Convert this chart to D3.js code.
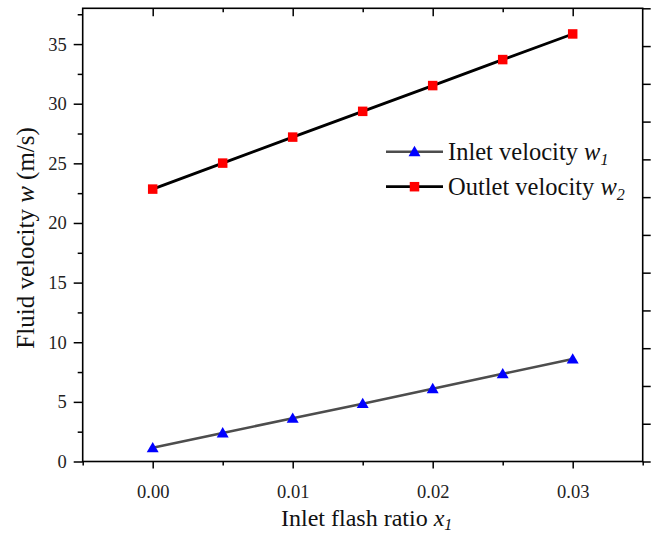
<!DOCTYPE html>
<html>
<head>
<meta charset="utf-8">
<script src="https://cdn.jsdelivr.net/npm/d3@7"></script>
<style>
  html, body { margin: 0; padding: 0; background: #fff; }
  svg { display: block; font-family: "Liberation Serif", "Times New Roman", serif; }
  svg text { font-family: "Liberation Serif", "Times New Roman", serif !important; }
</style>
</head>
<body>
<svg id="chart" width="659" height="536"></svg>
<script>
// Inlet flash ratio (x1) and the two velocity series (m/s)
const flashRatio = [0.000, 0.005, 0.010, 0.015, 0.020, 0.025, 0.030];
const inletVelocity = [1.15, 2.39, 3.62, 4.85, 6.10, 7.35, 8.59];
const outletVelocity = [22.84, 25.02, 27.2, 29.36, 31.52, 33.7, 35.85];

const xTickValues = [0.00, 0.01, 0.02, 0.03];
const xTickLabels = ["0.00", "0.01", "0.02", "0.03"];
const xMinorValues = [-0.005, 0.005, 0.015, 0.025, 0.035];
const yTickValues = [0, 5, 10, 15, 20, 25, 30, 35];
const yMinorValues = [2.5, 7.5, 12.5, 17.5, 22.5, 27.5, 32.5, 37.5];

const seriesNames = ["Inlet velocity", "Outlet velocity"];
const seriesSubs = ["1", "2"];

const FONT = "Liberation Serif, Times New Roman, serif";

const svg = d3.select("#chart");
const margin = { left: 82.7, right: 16.3, top: 8.3, bottom: 74.5 };
const W = 659, H = 536;
const x = d3.scaleLinear().domain([-0.005, 0.035]).range([margin.left, W - margin.right]);
const y = d3.scaleLinear().domain([0, 38]).range([H - margin.bottom, margin.top]);
// secondary right-hand scale (ticks only)
const yRight = d3.scaleLinear().domain([0, 12]).range([H - margin.bottom, margin.top]);

const x0 = margin.left, x1 = W - margin.right, y0 = H - margin.bottom, y1 = margin.top;

function styleAxis(g) {
  g.attr("font-family", FONT).attr("font-size", 18.5);
  g.select(".domain").remove();
  g.selectAll("line").attr("stroke", "#000").attr("stroke-width", 1.5);
  g.selectAll("text").attr("fill", "#222").style("font-family", FONT).style("font-size", "18.5px");
}

// bottom axis
svg.append("g").attr("transform", `translate(0,${y0})`)
  .call(d3.axisBottom(x).tickValues(xTickValues).tickFormat((d, i) => xTickLabels[i]).tickSize(7).tickPadding(16))
  .call(styleAxis);
svg.append("g").attr("transform", `translate(0,${y0})`)
  .call(d3.axisBottom(x).tickValues(xMinorValues).tickFormat("").tickSize(4))
  .call(styleAxis);

// top axis (inward ticks)
svg.append("g").attr("transform", `translate(0,${y1})`)
  .call(d3.axisBottom(x).tickValues(xTickValues).tickFormat("").tickSize(8))
  .call(styleAxis);
svg.append("g").attr("transform", `translate(0,${y1})`)
  .call(d3.axisBottom(x).tickValues(xMinorValues.filter(v => v > -0.005 && v < 0.035)).tickFormat("").tickSize(4))
  .call(styleAxis);

// left axis
svg.append("g").attr("transform", `translate(${x0},0)`)
  .call(d3.axisLeft(y).tickValues(yTickValues).tickFormat(d3.format("d")).tickSize(9).tickPadding(7))
  .call(styleAxis);
svg.append("g").attr("transform", `translate(${x0},0)`)
  .call(d3.axisLeft(y).tickValues(yMinorValues).tickFormat("").tickSize(5))
  .call(styleAxis);

// right axis (outward ticks, unlabeled)
svg.append("g").attr("transform", `translate(${x1},0)`)
  .call(d3.axisRight(yRight).tickValues(d3.range(0, 13)).tickFormat("").tickSize(8))
  .call(styleAxis);

// frame
svg.append("rect")
  .attr("x", x0).attr("y", y1).attr("width", x1 - x0).attr("height", y0 - y1)
  .attr("fill", "none").attr("stroke", "#000").attr("stroke-width", 1.6);

const line = d3.line().x(d => x(d[0])).y(d => y(d[1]));
const inletPts = flashRatio.map((v, i) => [v, inletVelocity[i]]);
const outletPts = flashRatio.map((v, i) => [v, outletVelocity[i]]);

svg.append("path").datum(inletPts).attr("d", line)
  .attr("fill", "none").attr("stroke", "#4d4d4d").attr("stroke-width", 2.6);
svg.append("path").datum(outletPts).attr("d", line)
  .attr("fill", "none").attr("stroke", "#000").attr("stroke-width", 2.8);

const tri = d3.symbol().type(d3.symbolTriangle).size(62);
const sq = 9.5;

svg.append("g").selectAll("path").data(inletPts).join("path")
  .attr("d", tri)
  .attr("transform", d => `translate(${x(d[0])},${y(d[1]) + 1})`)
  .attr("fill", "#0000ff");
svg.append("g").selectAll("rect").data(outletPts).join("rect")
  .attr("x", d => x(d[0]) - sq / 2).attr("y", d => y(d[1]) - sq / 2)
  .attr("width", sq).attr("height", sq)
  .attr("fill", "#ff0000");

// legend
const legend = svg.append("g");
const legRows = [151.7, 186.7];
const legX0 = 386, legX1 = 443, legMid = 414.5, legText = 448;
legRows.forEach((ly, i) => {
  legend.append("line").attr("x1", legX0).attr("x2", legX1).attr("y1", ly).attr("y2", ly)
    .attr("stroke", i === 0 ? "#4d4d4d" : "#000").attr("stroke-width", i === 0 ? 2.6 : 2.8);
  if (i === 0) {
    legend.append("path").attr("d", tri).attr("transform", `translate(${legMid},${ly + 1})`).attr("fill", "#0000ff");
  } else {
    legend.append("rect").attr("x", legMid - sq / 2).attr("y", ly - sq / 2).attr("width", sq).attr("height", sq).attr("fill", "#ff0000");
  }
  const t = legend.append("text").attr("x", legText).attr("y", ly + 8)
    .style("font-size", "24.5px").attr("fill", "#111");
  t.append("tspan").text(seriesNames[i] + " ");
  t.append("tspan").style("font-style", "italic").text("w");
  t.append("tspan").style("font-style", "italic").style("font-size", "16px").attr("dy", 5).text(seriesSubs[i]);
});

// axis titles
const xt = svg.append("text").attr("x", (x0 + x1) / 2 + 4).attr("y", 526)
  .attr("text-anchor", "middle").style("font-size", "24px").attr("fill", "#111");
xt.append("tspan").text("Inlet flash ratio ");
xt.append("tspan").style("font-style", "italic").text("x");
xt.append("tspan").style("font-style", "italic").style("font-size", "16px").attr("dy", 4).text("1");

const yt = svg.append("text")
  .attr("transform", `translate(34,${(y0 + y1) / 2 + 3}) rotate(-90)`)
  .attr("text-anchor", "middle").style("font-size", "25px").attr("fill", "#111");
yt.append("tspan").text("Fluid velocity ");
yt.append("tspan").style("font-style", "italic").text("w");
yt.append("tspan").text(" (m/s)");
</script>
</body>
</html>
